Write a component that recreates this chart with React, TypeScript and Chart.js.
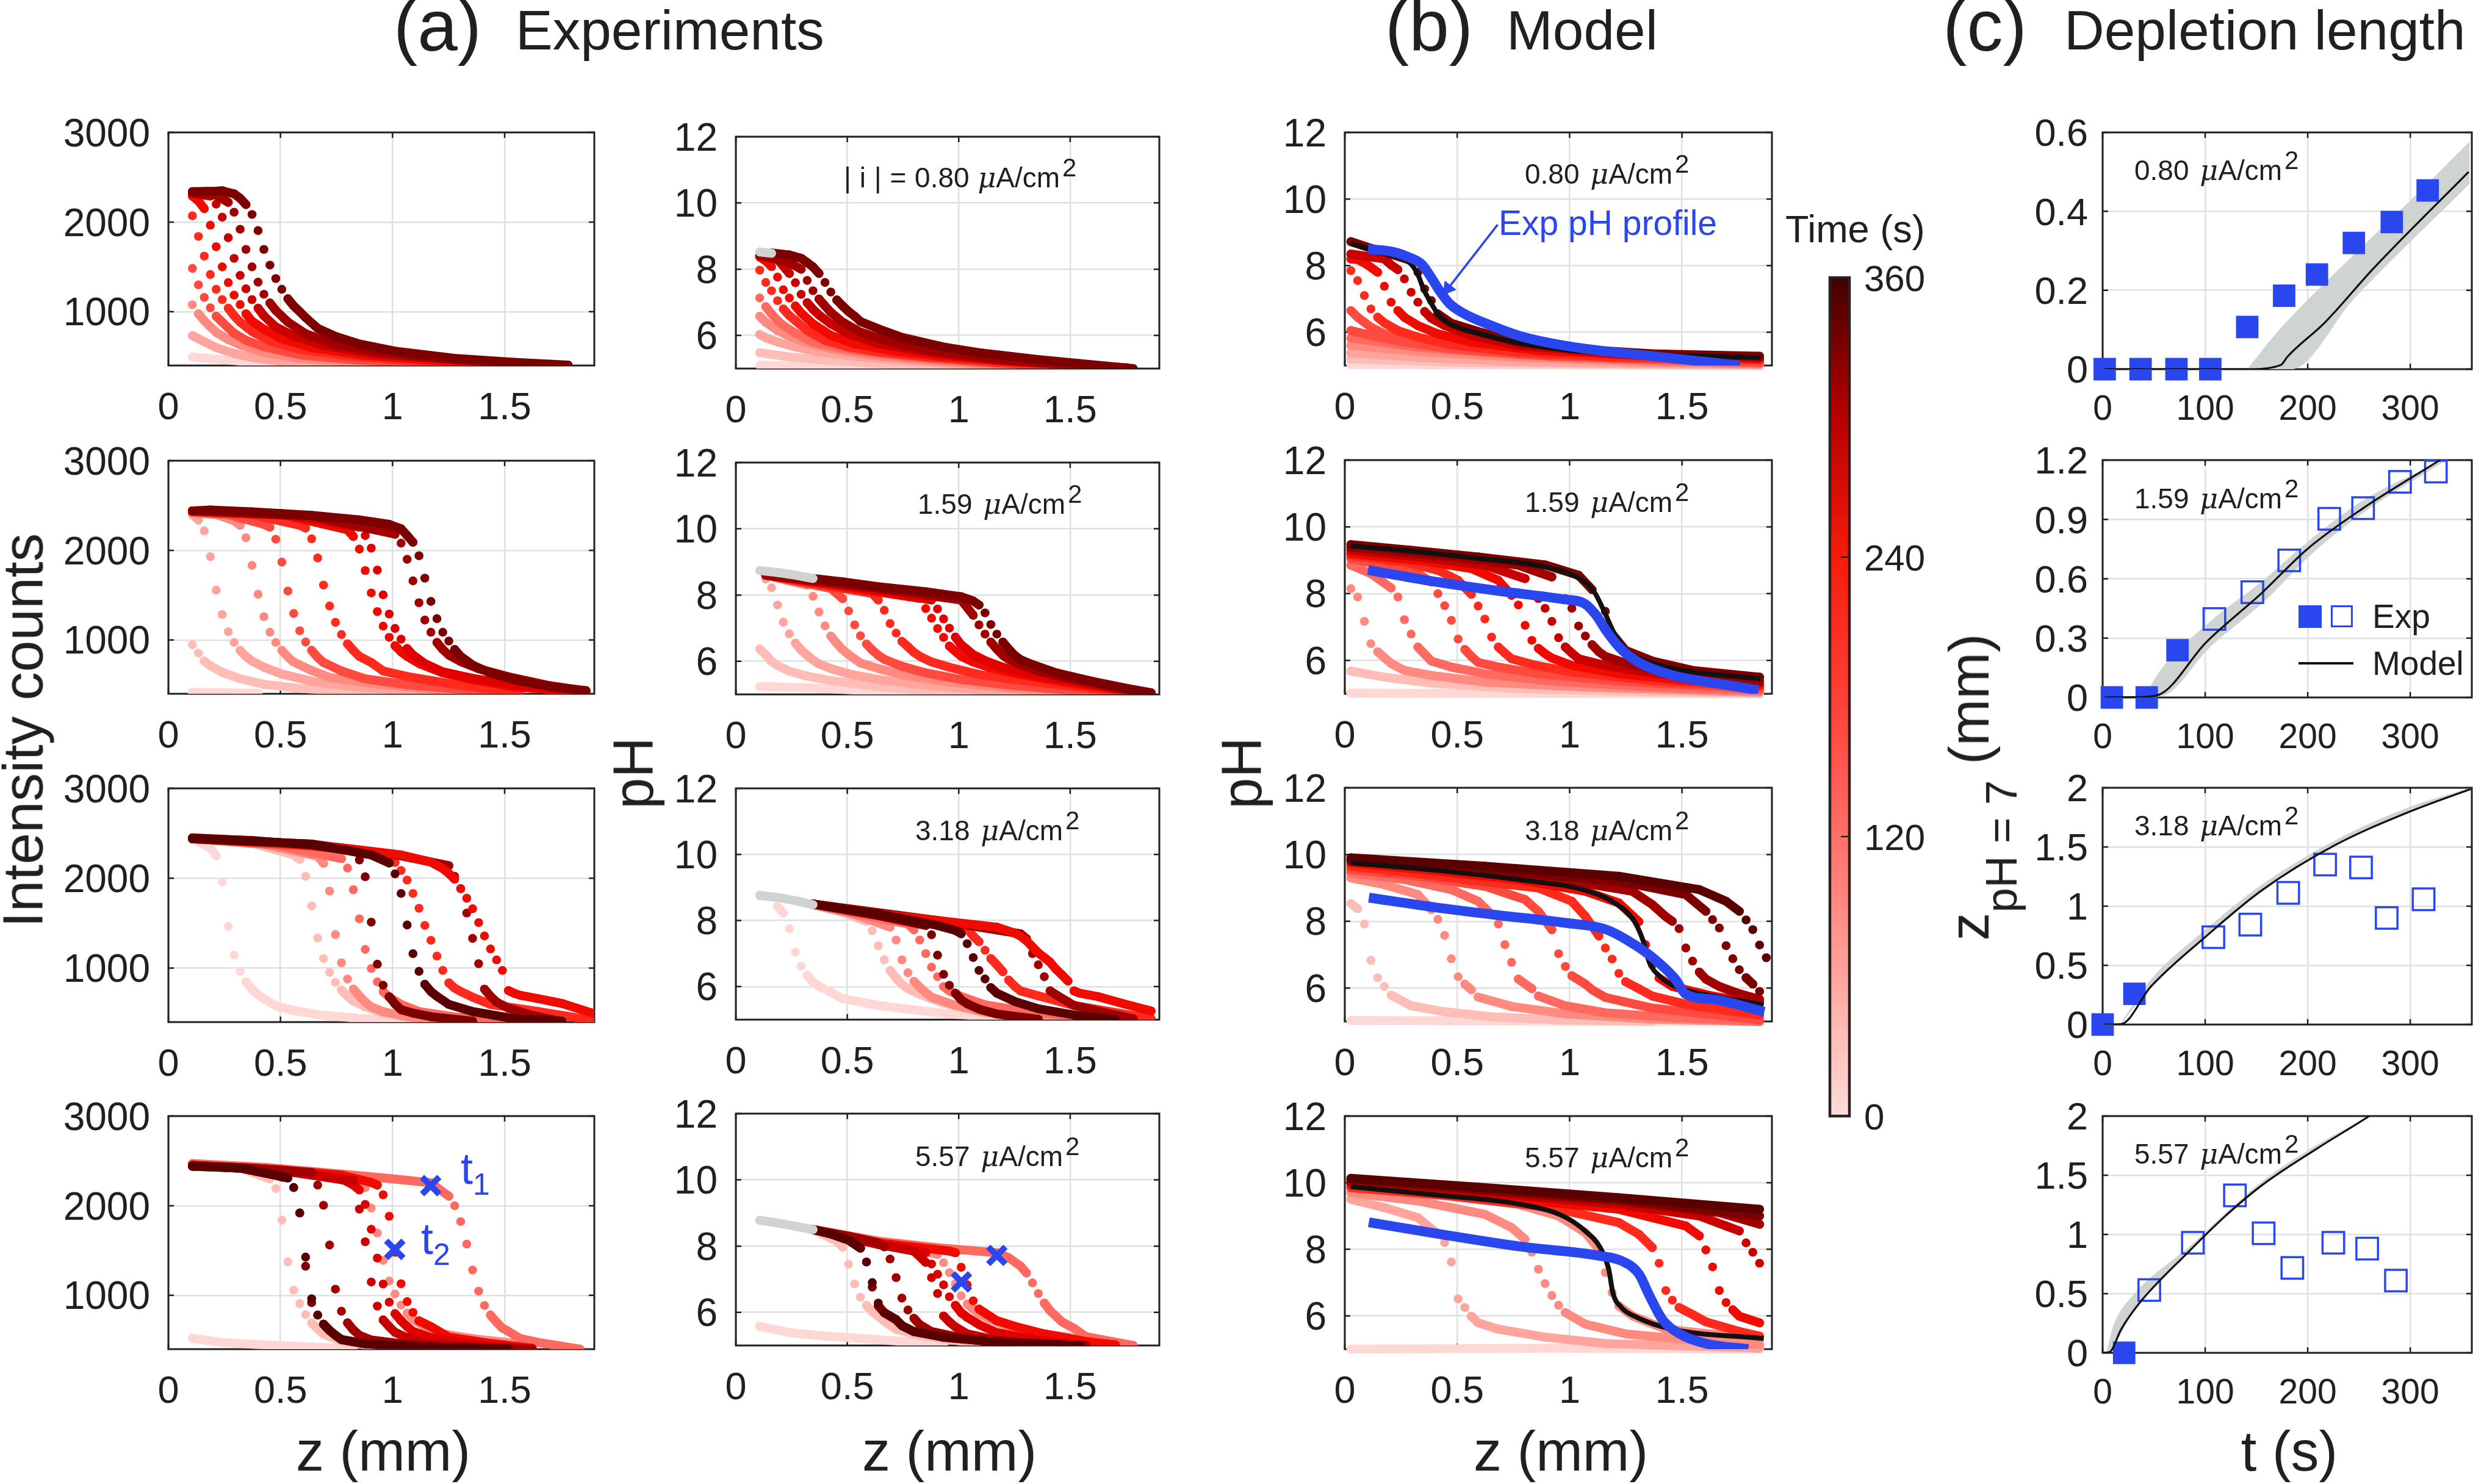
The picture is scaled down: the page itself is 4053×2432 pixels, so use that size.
import React, { useEffect, useRef } from "react";
import { Chart, registerables } from "chart.js";
Chart.register(...registerables);

// ---------- tick labels ----------
const zTicks = [0, 0.5, 1, 1.5];
const tTicks = [0, 100, 200, 300];
const intensityTicks = [1000, 2000, 3000];
const phTicks = [6, 8, 10, 12];
const depTicks1 = [0, 0.2, 0.4, 0.6];
const depTicks2 = [0, 0.3, 0.6, 0.9, 1.2];
const depTicks3 = [0, 0.5, 1, 1.5, 2];
const timeTicks = [0, 120, 240, 360];

// ---------- shared z sampling of the profiles ----------
const zExp = [0.107,0.134,0.160,0.187,0.213,0.240,0.267,0.293,0.320,0.346,0.373,0.400,0.426,0.453,0.479,0.506,0.533,0.559,0.586,0.612,0.639,0.666,0.692,0.719,0.745,0.772,0.799,0.825,0.852,0.878,0.905,0.932,0.958,0.985,1.011,1.038,1.065,1.091,1.118,1.144,1.171,1.198,1.224,1.251,1.277,1.304,1.331,1.357,1.384,1.410,1.437,1.464,1.490,1.517,1.543,1.570,1.597,1.623,1.650,1.676,1.703,1.730,1.756,1.783,1.809,1.836,1.863,1.889];
const zMod = [0.027,0.057,0.087,0.116,0.146,0.176,0.206,0.236,0.265,0.295,0.325,0.355,0.385,0.414,0.444,0.474,0.504,0.534,0.563,0.593,0.623,0.653,0.683,0.712,0.742,0.772,0.802,0.832,0.861,0.891,0.921,0.951,0.981,1.01,1.04,1.07,1.1,1.13,1.159,1.189,1.219,1.249,1.279,1.308,1.338,1.368,1.398,1.428,1.457,1.487,1.517,1.547,1.577,1.606,1.636,1.666,1.696,1.726,1.755,1.785,1.815,1.845,1.875];

// ---------- profiles: flat lists of (sample index, value), oldest first ----------
const intensity1 = [
  [0,495,5,465,10,440,15,420,20,405],
  [0,733,2,665,4,600,7,535,10,490,15,445,22,420,29,402],
  [0,1077,1,978,2,900,3,832,4,770,6,690,8,630,12,545,18,480,26,440,37,405],
  [0,1483,1,1300,2,1160,3,1045,4,950,5,885,6,820,7,760,9,680,12,610,18,520,26,470,36,430,46,405],
  [0,2070,1,1840,2,1620,3,1415,4,1250,5,1135,6,1040,7,955,8,885,10,780,13,675,18,580,26,510,36,460,50,415],
  [0,2290,1,2235,2,2150,3,1965,4,1725,5,1500,6,1325,7,1185,8,1080,9,977,10,895,12,805,15,700,20,600,28,520,40,460,56,410],
  [0,2320,3,2290,4,2200,5,2055,6,1825,7,1595,8,1405,9,1255,10,1135,11,1040,12,955,14,830,17,730,22,625,30,535,42,470,60,410],
  [0,2330,4,2300,6,2220,7,2110,8,1920,9,1695,10,1500,11,1330,12,1195,13,1097,14,1015,16,885,19,755,24,635,32,545,44,470,60,405],
  [0,2340,4,2345,5,2350,6,2330,7,2315,8,2265,9,2195,10,2085,11,1905,12,1695,13,1520,14,1370,15,1250,16,1145,17,1065,18,1000,19,935,21,815,24,725,28,640,34,560,44,480,54,435,63,405],
];
const intensity2 = [
  [0,415,5,412,11,405],
  [0,947,1,853,2,765,3,712,5,640,8,570,12,505,18,460,26,430,36,405],
  [0,2400,1,2337,2,2217,3,1930,4,1556,5,1285,6,1093,7,973,8,884,9,817,10,765,12,697,15,620,20,540,27,478,36,436,45,410],
  [0,2420,4,2400,7,2330,8,2280,9,2140,10,1832,11,1510,12,1260,13,1087,14,973,15,884,16,811,17,754,20,660,23,582,30,515,38,462,47,425,49,410],
  [0,2430,6,2400,12,2290,13,2259,14,2124,15,1869,16,1546,17,1296,18,1103,19,978,20,884,21,806,22,749,25,655,29,567,36,500,44,457,54,410],
  [0,2430,10,2400,18,2280,19,2249,20,2129,21,1915,22,1613,23,1379,24,1197,25,1061,26,957,27,884,28,817,30,749,32,655,36,593,44,504,53,426,55,405],
  [0,2440,15,2400,26,2230,27,2155,28,2014,29,1775,30,1525,31,1317,32,1155,33,1030,34,936,35,869,36,817,38,738,42,634,47,556,54,478,64,426],
  [0,2440,15,2410,28,2260,29,2165,30,2025,31,1780,32,1504,33,1290,34,1129,35,1009,36,905,37,832,39,738,42,645,47,572,54,499,65,426],
  [0,2440,20,2380,34,2180,35,2080,36,1900,37,1660,38,1416,39,1223,40,1087,41,973,42,895,43,832,45,760,48,680,53,590,60,490,66,430],
  [0,2440,3,2450,10,2430,20,2390,28,2340,33,2290,35,2240,36,2165,37,2090,38,1940,39,1690,40,1430,41,1238,42,1087,43,988,44,895,45,817,47,720,50,630,55,540,60,480,66,435],
];
const intensity3 = [
  [0,2440,3,2336,4,2251,5,1959,6,1464,7,1145,8,964,9,847,10,767,11,703,12,661,14,581,17,528,22,474,29,437,36,416,40,405],
  [0,2440,10,2390,17,2260,18,2209,19,2022,20,1693,21,1336,22,1107,23,953,24,842,25,756,26,687,27,634,29,570,32,501,37,448,43,416,46,405],
  [0,2440,12,2380,21,2246,22,2166,23,1858,24,1373,25,1060,26,879,27,767,28,693,29,623,30,570,32,517,36,458,43,421,53,402],
  [0,2440,14,2370,25,2219,26,2113,27,1873,28,1549,29,1209,30,996,31,847,32,740,33,677,35,597,38,517,44,458,53,405],
  [0,2440,20,2360,30,2290,34,2177,35,2087,36,1980,37,1831,38,1666,39,1475,40,1310,41,1134,42,975,43,836,44,778,45,740,47,677,50,597,58,517,67,421],
  [0,2440,20,2380,35,2250,43,2140,44,2022,45,1884,46,1613,47,1331,48,1049,49,767,50,687,51,623,53,554,57,474,62,405],
  [0,2440,10,2420,25,2340,35,2260,40,2180,42,2108,43,2054,44,1990,45,1884,46,1778,47,1661,48,1507,49,1358,50,1214,51,1092,52,975,53,751,54,720,55,698,58,660,62,607,67,501],
  [0,2450,10,2420,20,2370,27,2300,28,2203,29,2017,30,1512,31,1044,32,810,33,682,34,602,35,538,37,500,40,460,47,410],
  [0,2440,20,2380,30,2260,33,2170,34,2049,35,1831,36,1480,37,1161,38,964,39,820,40,740,41,687,43,597,47,517,54,437,62,410],
];
const intensity4 = [
  [0,520,5,475,10,455,18,430,27,405],
  [0,2450,8,2420,13,2299,14,2192,15,1839,16,1374,17,1058,18,908,19,785,20,694,21,625,22,566,25,490,29,448,37,425,40,410],
  [0,2460,15,2400,25,2320,29,2200,30,1973,31,1695,32,1390,33,1160,34,1015,35,892,36,801,37,732,39,651,42,571,47,518,54,464,57,430],
  [0,2470,12,2428,25,2353,32,2310,40,2256,41,2203,43,2106,44,2000,45,1823,46,1572,47,1283,48,1047,49,887,50,780,51,700,52,635,53,598,55,518,58,475,65,400],
  [0,2450,15,2400,25,2340,30,2260,31,2230,32,2122,33,1882,34,1480,35,1130,36,930,37,810,38,716,40,651,43,534,50,464,57,410],
  [0,2450,15,2390,25,2300,27,2230,28,2176,29,2015,30,1737,31,1416,32,1127,33,924,34,796,35,716,36,651,37,598,40,528,47,459,56,400],
  [0,2450,15,2390,25,2290,27,2283,28,1962,29,1598,30,1149,31,880,32,726,33,651,34,587,36,528,39,475,47,432,53,400],
  [0,2450,10,2420,20,2370,21,2230,22,2005,23,1561,24,1069,25,823,26,694,27,614,28,555,30,502,36,453,47,421,57,400],
  [0,2440,8,2420,14,2340,15,2320,16,2310,17,2203,18,1919,19,1325,20,919,21,780,22,678,23,609,24,555,25,507,29,459,40,421,53,400],
  [0,2440,8,2420,14,2340,16,2310,17,2203,18,1919,19,1427,20,962,21,780,22,678,23,609,24,555,25,507,29,459,40,421,53,400],
];
const cross1 = [{ x: 1.17, y: 2224 }, { x: 1.01, y: 1513 }];

const phExp1 = [
  [0,5.1,8,5.07,16,5.03,27,5.0],
  [0,5.48,5,5.35,10,5.27,18,5.17,28,5.07,38,5.0],
  [0,6.03,1,5.93,3,5.8,6,5.65,10,5.5,16,5.37,24,5.25,34,5.12,42,5.03],
  [0,6.58,1,6.4,2,6.28,3,6.15,5,5.98,8,5.78,12,5.6,18,5.42,26,5.28,36,5.15,46,5.03],
  [0,7.13,1,6.87,2,6.65,3,6.45,4,6.3,6,6.07,9,5.8,14,5.6,20,5.45,28,5.3,40,5.15,50,5.04],
  [0,7.97,1,7.6,2,7.35,3,7.05,4,6.8,5,6.6,6,6.45,8,6.15,11,5.85,15,5.65,20,5.5,28,5.35,40,5.18,54,5.03],
  [0,8.37,1,8.25,2,8.08,3,7.76,4,7.38,5,7.13,6,6.89,7,6.68,9,6.35,12,6.0,16,5.75,22,5.55,30,5.38,44,5.2,58,5.03],
  [0,8.4,3,8.3,5,7.87,6,7.59,7,7.24,8,6.99,9,6.79,10,6.62,12,6.35,15,6.05,20,5.75,28,5.5,40,5.25,60,5.02],
  [0,8.42,5,8.2,7,8.0,8,7.66,9,7.35,10,7.1,11,6.89,12,6.7,14,6.4,17,6.1,22,5.8,30,5.5,42,5.25,62,5.02],
  [2,8.49,5,8.43,7,8.33,8,8.2,9,8.07,10,7.87,11,7.6,12,7.31,13,7.07,14,6.89,15,6.72,16,6.58,17,6.42,20,6.2,24,5.94,31,5.65,37,5.48,47,5.27,54,5.15,63,5.0],
];
const phGray1 = [0,8.52,1,8.5,2,8.48];
const phExp2 = [
  [0,5.24,8,5.2,20,5.1,36,5.0],
  [0,6.37,1,6.2,2,6.0,3,5.87,5,5.7,8,5.55,12,5.42,18,5.28,26,5.15,36,5.05,42,5.0],
  [1,8.48,2,8.22,3,7.7,4,7.18,5,6.83,6,6.55,7,6.34,8,6.18,9,6.04,10,5.92,12,5.78,15,5.62,20,5.45,28,5.28,38,5.12,46,5.02],
  [1,8.6,8,8.3,9,7.96,10,7.49,11,7.07,12,6.76,13,6.54,14,6.35,15,6.2,17,5.95,20,5.78,24,5.6,30,5.42,38,5.26,48,5.1,54,5.03],
  [1,8.6,12,8.2,14,7.89,15,7.52,16,7.1,17,6.77,18,6.52,19,6.34,20,6.18,21,6.06,24,5.85,28,5.65,34,5.45,42,5.28,54,5.1,60,5.02],
  [1,8.6,14,8.2,19,8.05,20,7.85,21,7.54,22,7.14,23,6.85,24,6.6,25,6.44,26,6.27,27,6.15,29,5.98,32,5.82,37,5.6,45,5.4,54,5.22,62,5.05],
  [1,8.6,16,8.2,27,7.9,28,7.59,29,7.3,30,6.99,31,6.72,32,6.46,33,6.3,34,6.15,36,5.98,39,5.8,44,5.6,52,5.35,60,5.15,66,5.02],
  [1,8.6,18,8.2,29,7.85,30,7.58,31,7.28,32,7.0,33,6.73,34,6.5,35,6.35,36,6.2,38,6.02,41,5.82,46,5.6,54,5.35,62,5.14,66,5.03],
  [1,8.6,20,8.2,34,7.85,36,7.39,37,7.1,38,6.82,39,6.58,40,6.37,41,6.18,42,6.06,44,5.9,47,5.7,52,5.48,60,5.2,66,5.03],
  [9,8.5,14,8.4,20,8.25,28,8.1,34,7.95,36,7.82,37,7.7,38,7.46,39,7.11,40,6.82,41,6.58,42,6.37,43,6.18,44,6.05,46,5.9,50,5.65,56,5.4,62,5.18,66,5.05],
];
const phGray2 = [0,8.74,3,8.68,6,8.6,9,8.5];
const phExp3 = [
  [3,8.43,4,8.23,5,7.75,6,7.04,7,6.62,8,6.35,9,6.13,10,6.01,12,5.83,14,5.64,20,5.43,25,5.32,32,5.17,40,5.09,49,5.0],
  [9,8.48,14,8.25,18,7.97,19,7.69,20,7.24,21,6.81,22,6.49,23,6.26,24,6.07,25,5.94,27,5.77,31,5.5,37,5.26,45,5.09,49,5.03],
  [9,8.48,15,8.25,22,7.8,23,7.41,24,6.81,25,6.42,26,6.16,27,5.98,28,5.82,29,5.68,33,5.43,38,5.22,47,5.06,52,5.0],
  [9,8.5,15,8.25,25,7.9,26,7.72,27,7.41,28,7.0,29,6.59,30,6.3,31,6.0,32,5.87,34,5.7,38,5.45,44,5.28,52,5.12,60,5.02],
  [9,8.5,20,8.2,30,7.95,35,7.75,36,7.53,37,7.36,38,7.1,39,6.85,40,6.66,41,6.45,42,6.2,43,6.01,44,5.87,47,5.72,53,5.43,66,5.03],
  [9,8.5,30,8.0,44,7.6,45,7.45,46,7.0,47,6.66,48,6.3,49,5.87,50,5.75,53,5.43,60,5.14,63,5.03],
  [9,8.5,20,8.2,30,8.0,40,7.8,43,7.62,44,7.53,45,7.39,46,7.2,47,7.02,48,6.88,49,6.74,50,6.52,51,6.35,52,6.17,53,5.87,54,5.8,57,5.7,61,5.5,66,5.26],
  [9,8.5,20,8.15,28,7.85,29,7.57,30,6.95,31,6.37,32,6.04,33,5.8,34,5.6,35,5.48,37,5.32,40,5.17,47,5.01],
  [9,8.5,20,8.2,30,7.85,33,7.7,34,7.6,35,7.3,36,6.88,37,6.49,38,6.23,39,5.97,40,5.8,43,5.55,47,5.33,53,5.14,60,5.0],
];
const phGray3 = [0,8.76,3,8.7,6,8.6,9,8.48];
const phExp4 = [
  [0,5.58,5,5.39,10,5.3,18,5.2,26,5.1,31,5.02],
  [9,8.5,13,8.15,14,7.97,15,7.45,16,6.86,17,6.46,18,6.21,19,6.02,20,5.88,21,5.73,23,5.49,27,5.3,34,5.13,42,5.01],
  [9,8.5,20,8.15,30,7.75,31,7.5,32,7.2,33,6.86,34,6.5,35,6.25,36,6.1,37,5.95,39,5.78,42,5.55,47,5.38,54,5.2,60,5.05],
  [9,8.5,20,8.15,30,7.95,40,7.8,42,7.65,44,7.4,45,7.19,46,6.89,47,6.57,48,6.28,49,6.05,50,5.88,51,5.71,53,5.52,55,5.27,63,5.0],
  [9,8.5,20,8.1,32,7.85,33,7.8,34,7.36,35,6.83,36,6.35,37,6.1,38,5.98,40,5.75,43,5.58,48,5.35,55,5.12,60,5.02],
  [9,8.5,20,8.05,27,7.85,28,7.8,29,7.46,30,7.15,31,6.83,32,6.47,33,6.21,34,5.99,35,5.85,37,5.63,40,5.39,47,5.16,55,5.0],
  [9,8.5,20,8.05,26,7.85,28,7.51,29,7.05,30,6.57,31,5.89,32,5.71,33,5.56,35,5.35,40,5.16,47,5.04,52,5.0],
  [9,8.5,15,8.3,20,8.1,21,7.98,22,7.61,23,7.05,24,6.43,25,6.07,26,5.82,27,5.63,29,5.42,34,5.23,44,5.09,55,5.0],
  [9,8.5,12,8.37,15,8.18,17,7.94,18,7.52,19,6.76,20,6.2,21,5.99,23,5.78,24,5.6,26,5.42,31,5.25,40,5.1,54,5.0],
  [9,8.5,12,8.37,15,8.18,17,7.94,18,7.52,19,6.9,20,6.28,21,5.99,23,5.78,24,5.6,26,5.42,31,5.25,40,5.1,54,5.0],
];
const phGray4 = [0,8.78,3,8.7,6,8.6,9,8.5];
const cross2 = [{ x: 1.171, y: 7.72 }, { x: 1.012, y: 6.92 }];

const phMod1 = [
  [0,5.03,30,5.02,61,5.0],
  [0,5.2,15,5.1,35,5.05,61,5.0],
  [0,5.38,10,5.25,25,5.12,61,5.03],
  [0,5.6,10,5.42,25,5.25,45,5.1,61,5.05],
  [0,5.82,4,5.72,10,5.55,25,5.32,45,5.15,61,5.07],
  [0,6.05,3,5.9,8,5.7,15,5.5,30,5.28,61,5.1],
  [0,6.65,1,6.45,2,6.3,3,6.15,5,5.95,10,5.72,20,5.45,40,5.25,61,5.15],
  [0,7.85,1,7.55,2,7.1,3,6.7,4,6.45,5,6.28,7,6.05,10,5.85,15,5.62,25,5.4,40,5.25,61,5.17],
  [0,8.2,1,8.18,2,8.08,3,7.95,4,7.8,5,7.38,6,6.9,7,6.65,8,6.45,10,6.2,13,5.95,18,5.7,28,5.45,45,5.28,61,5.2],
  [0,8.35,5,8.2,6,8.02,7,7.88,8,7.6,9,7.2,10,6.9,11,6.62,12,6.42,14,6.2,18,5.9,25,5.6,40,5.35,61,5.25],
  [0,8.72,3,8.52,6,8.34,9,8.15,10,7.8,11,7.3,12,6.95,13,6.55,15,6.27,19,6.02,25,5.7,33,5.5,45,5.35,61,5.28],
];
const phMod2 = [
  [0,5.02,30,5.01,61,5.0],
  [0,5.68,5,5.5,12,5.32,25,5.15,45,5.06,61,5.03],
  [0,8.15,1,7.9,2,7.17,3,6.5,4,6.26,5,6.08,6,5.91,8,5.7,12,5.55,20,5.35,35,5.2,61,5.05],
  [0,8.85,3,8.6,6,8.17,7,7.9,8,7.22,9,6.79,10,6.4,11,6.19,12,5.98,15,5.8,20,5.6,30,5.38,45,5.2,61,5.1],
  [0,9.05,6,8.8,10,8.6,12,8.35,13,8.0,14,7.64,15,7.2,16,6.64,17,6.33,18,6.12,19,5.94,22,5.8,28,5.6,40,5.38,61,5.15],
  [0,9.15,8,8.95,13,8.7,16,8.4,18,7.98,19,7.63,20,7.24,21,6.7,22,6.4,23,6.22,24,6.05,27,5.88,33,5.65,45,5.4,61,5.22],
  [0,9.2,10,9.0,18,8.75,22,8.4,24,7.95,25,7.66,26,7.05,27,6.6,28,6.36,29,6.2,30,6.07,33,5.85,40,5.6,50,5.4,61,5.28],
  [0,9.3,10,9.1,20,8.85,26,8.45,28,7.85,29,7.56,30,7.17,31,6.68,32,6.4,33,6.22,34,6.05,38,5.85,45,5.62,55,5.42,61,5.33],
  [0,9.38,15,9.1,25,8.85,30,8.5,32,7.85,33,7.56,34,7.03,35,6.73,36,6.47,37,6.26,38,6.12,42,5.85,48,5.65,55,5.48,61,5.38],
  [0,9.47,9,9.3,19,9.1,29,8.86,34,8.55,36,8.12,38,7.47,39,6.8,41,6.3,45,5.98,51,5.7,61,5.5],
];
const phMod3 = [
  [0,5.03,30,5.01,61,5.0],
  [0,8.53,1,8.38,2,7.92,3,6.83,4,6.31,5,6.05,6,5.79,9,5.47,14,5.29,21,5.14,32,5.04,45,5.0],
  [0,9.3,5,9.1,10,8.8,12,8.35,13,8.06,14,7.58,15,6.88,16,6.34,17,6.12,18,5.95,19,5.73,24,5.45,32,5.23,45,5.07,61,5.0],
  [0,9.45,8,9.25,15,8.95,19,8.6,21,8.2,22,7.92,23,7.3,24,6.77,25,6.27,27,5.98,28,5.76,32,5.47,38,5.26,48,5.12,61,5.0],
  [0,9.55,10,9.35,20,9.05,26,8.65,28,8.3,30,7.75,31,7.03,32,6.65,33,6.37,35,6.12,36,5.95,38,5.72,45,5.4,61,5.05],
  [0,9.65,15,9.3,28,9.0,33,8.6,35,8.15,37,7.56,38,7.2,39,6.87,40,6.44,41,6.19,43,5.98,45,5.76,51,5.47,61,5.19],
  [0,9.75,13,9.5,25,9.25,35,8.9,40,8.55,43,7.99,44,7.3,45,6.7,46,6.3,48,6.05,54,5.76,61,5.55],
  [0,9.8,15,9.6,30,9.3,42,8.9,45,8.5,47,8.14,48,8.0,49,7.78,50,7.2,51,6.81,52,6.48,53,6.27,55,6.05,58,5.83,61,5.66],
  [0,9.85,20,9.55,40,9.2,50,8.8,53,8.3,54,8.05,55,7.8,56,7.27,57,6.88,58,6.55,59,6.31,60,6.12,61,5.9],
  [0,9.9,20,9.65,40,9.35,52,8.95,56,8.6,58,8.3,59,8.04,60,7.75,61,7.29,62,6.91],
];
const phMod4 = [
  [0,5.0,30,5.03,61,5.0],
  [0,9.5,5,9.25,10,8.95,13,8.45,14,8.2,15,7.62,16,6.51,17,6.25,18,5.99,19,5.79,22,5.6,29,5.36,38,5.17,61,5.03],
  [0,9.7,10,9.45,20,9.05,24,8.65,26,8.3,27,7.91,28,7.4,29,6.97,30,6.61,31,6.32,32,6.1,35,5.75,41,5.46,51,5.27,61,5.13],
  [0,9.88,13,9.63,25,9.35,31,9.0,35,8.5,37,8.0,38,7.3,39,6.7,40,6.3,42,6.0,47,5.6,61,5.3],
  [0,9.85,15,9.6,30,9.25,40,8.8,43,8.45,45,8.05,46,7.58,47,6.76,48,6.47,49,6.25,51,6.04,53,5.82,58,5.53,61,5.39],
  [0,9.95,20,9.6,40,9.2,50,8.7,52,8.4,53,7.98,54,7.47,55,6.76,56,6.4,57,6.18,58,5.99,61,5.79],
  [0,10.0,20,9.7,40,9.35,52,9.0,56,8.7,58,8.55,59,8.19,60,7.91,61,7.58],
  [0,10.05,20,9.75,40,9.45,55,9.1,61,8.75],
  [0,10.1,20,9.8,40,9.5,61,9.0],
  [0,10.13,20,9.85,40,9.55,61,9.2],
];

// ---------- solid lines overlaid on the model profiles ----------
const modelLineZ1 = [0.027,0.113,0.21,0.285,0.323,0.352,0.38,0.419,0.476,0.59,0.782,1.002,1.356,1.849];
const modelLinePh1 = [8.67,8.49,8.31,8.11,7.76,7.27,6.92,6.5,6.22,5.97,5.67,5.46,5.32,5.25];
const modelLineZ2 = [0.027,0.304,0.59,0.877,1.03,1.107,1.155,1.203,1.26,1.356,1.547,1.849];
const modelLinePh2 = [9.43,9.27,9.06,8.82,8.5,8.08,7.45,6.75,6.26,5.94,5.66,5.46];
const modelLineZ3 = [0.027,0.4,0.782,1.069,1.203,1.289,1.327,1.355,1.403,1.47,1.642,1.863];
const modelLinePh3 = [9.75,9.53,9.24,8.93,8.54,7.99,7.42,6.77,6.34,6.05,5.76,5.5];
const modelLineZ4 = [0.027,0.4,0.782,0.973,1.069,1.136,1.174,1.193,1.231,1.298,1.455,1.863];
const modelLinePh4 = [9.88,9.63,9.35,8.99,8.55,8.05,7.4,6.68,6.25,5.96,5.6,5.32];
const expLineZ1 = [0.103,0.21,0.285,0.342,0.38,0.419,0.467,0.533,0.629,0.782,1.002,1.356,1.757];
const expLinePh1 = [8.5,8.42,8.25,8.04,7.69,7.27,6.85,6.55,6.26,5.88,5.57,5.29,5.0];
const expLineZ2 = [0.103,0.4,0.686,0.973,1.067,1.115,1.163,1.22,1.298,1.455,1.645,1.84];
const expLinePh2 = [8.71,8.36,8.08,7.83,7.7,7.38,6.89,6.4,5.98,5.56,5.32,5.11];
const expLineZ3 = [0.107,0.4,0.686,0.973,1.164,1.26,1.355,1.47,1.518,1.642,1.866];
const expLinePh3 = [8.71,8.42,8.18,7.96,7.75,7.42,6.99,6.27,5.81,5.66,5.29];
const expLineZ4 = [0.107,0.4,0.782,1.126,1.241,1.308,1.355,1.413,1.49,1.604,1.795];
const expLinePh4 = [8.81,8.48,8.08,7.81,7.62,7.26,6.61,5.89,5.46,5.17,5.0];
const arrowZ = [0.68, 0.459];
const arrowPh = [9.23, 7.31];

// ---------- depletion length ----------
const depT1 = [2,37,72,105,141,177,209,245,282,317];
const depZ1 = [0,0,0,0,0.107,0.186,0.24,0.32,0.373,0.453];
const depFilled1 = 10;
const depLineT1 = [2,141,174,180,217,264,357];
const depLineZ1 = [0,0,0.011,0.031,0.119,0.255,0.5];
const bandUpT1 = [141,173,245,300,358];
const bandUpZ1 = [0,0.102,0.29,0.427,0.577];
const bandLoT1 = [141,184,245,358];
const bandLoZ1 = [0,0,0.178,0.47];

const depT2 = [9,43,73,109,146,182,221,254,290,325];
const depZ2 = [0,0,0.239,0.397,0.532,0.693,0.903,0.957,1.09,1.142];
const depFilled2 = 3;
const depLineT2 = [2,36,54,101,155,200,253,329];
const depLineZ2 = [0,0.002,0.012,0.279,0.527,0.752,0.953,1.2];
const bandUpT2 = [40,58,105,155,200,253,332];
const bandUpZ2 = [0,0.149,0.385,0.586,0.787,0.993,1.2];
const bandLoT2 = [40,58,105,159,202,253,332];
const bandLoZ2 = [0,0.007,0.255,0.492,0.716,0.929,1.19];

const depT3 = [0,31,108,144,181,217,252,277,313];
const depZ3 = [0,0.26,0.738,0.844,1.112,1.351,1.327,0.9,1.058];
const depFilled3 = 2;
const depLineT3 = [2,18,47,101,155,227,300,359];
const depLineZ3 = [0,0.004,0.32,0.746,1.132,1.517,1.8,1.99];
const bandUpT3 = [18,47,101,155,227,300,359];
const bandUpZ3 = [0.016,0.38,0.807,1.18,1.557,1.84,2.0];
const bandLoT3 = [18,47,101,155,227,300,359];
const bandLoZ3 = [0.004,0.32,0.746,1.132,1.517,1.8,1.99];

const depT4 = [21,45.5,88,129,157,185,225,258,286];
const depZ4 = [0,0.53,0.93,1.33,1.01,0.717,0.93,0.88,0.61];
const depFilled4 = 1;
const depLineT4 = [0,7,18,36,83,119,155,209,260,275];
const depLineZ4 = [0,0.008,0.198,0.421,0.846,1.15,1.413,1.725,2.0,2.09];
const bandUpT4 = [4,11,29,83,155,209,260];
const bandUpZ4 = [0.016,0.24,0.48,0.887,1.445,1.757,2.0];
const bandLoT4 = [4,11,29,83,155,209,260];
const bandLoZ4 = [0.002,0.06,0.33,0.846,1.413,1.725,2.0];

// ---------- styling ----------
const P = ["#ffd8d5","#ffbdb7","#ffa59d","#ff8a80","#ff6a60","#ff4a40","#ff2a1e","#f00a00","#c80000","#a00000","#7d0000","#5a0000"];
const coloursI1 = [P[0],P[2],P[3],P[5],P[6],P[7],P[8],P[9],P[10]];
const coloursP1 = [P[0],P[1],P[2],P[3],P[4],P[6],P[7],P[8],P[9],P[10]];
const coloursR2 = [P[0],P[1],P[2],P[3],P[5],P[6],P[7],"#e00000",P[9],P[10]];
const coloursR3 = [P[0],P[1],P[3],P[4],P[6],P[9],P[7],P[10],P[11]];
const coloursR4 = [P[0],P[1],P[3],P[4],P[7],"#e00000",P[8],P[9],P[10],P[11]];
const coloursM1 = [P[0],P[1],P[2],P[3],P[4],P[5],P[5],P[6],P[7],P[8],P[10]];
const coloursM2 = [P[0],P[1],P[3],P[4],P[5],P[6],P[7],P[8],P[9],P[10]];
const coloursM3 = [P[0],P[1],P[3],P[4],P[5],P[6],P[7],P[9],P[10],P[11]];
const coloursM4 = [P[0],P[2],P[3],P[3],P[6],P[7],P[8],P[9],P[10],P[11]];
const GRAY = "#cfd3d1";
const BLUE = "#2a46ee";
const INK = "#202020";
const FONT = '"Liberation Sans", Arial, sans-serif';
const cbTimes = [0,60,120,180,240,300,340,360];
const cbColours = ["#fddcd9","#ffa59d","#ff7068","#ff3f36","#f41c0c","#b80000","#6a0000","#3e0000"];

const ML = 200, MR = 40, MT = 40, MB = 130;
const Y_LABEL_NUDGE = 5;

const nudgeY = (chart: any) => {
  const s = chart.scales.y;
  for (const item of s.getLabelItems()) {
    if (!item.options.__nudged) {
      item.options.translation = [item.options.translation[0], item.options.translation[1] + Y_LABEL_NUDGE];
      item.options.__nudged = true;
    }
  }
};

const frame = {
  id: "frame",
  beforeDraw: nudgeY,
  beforeDatasetsDraw(chart: any) {
    const { ctx, chartArea: a, scales } = chart;
    ctx.save();
    ctx.strokeStyle = INK;
    ctx.lineWidth = 3;
    ctx.strokeRect(a.left, a.top, a.right - a.left, a.bottom - a.top);
    ctx.lineWidth = 2.5;
    const len = 9;
    ctx.beginPath();
    for (const t of scales.x.ticks) {
      const x = scales.x.getPixelForValue(t.value);
      ctx.moveTo(x, a.bottom); ctx.lineTo(x, a.bottom - len);
      ctx.moveTo(x, a.top); ctx.lineTo(x, a.top + len);
    }
    for (const t of scales.y.ticks) {
      const y = scales.y.getPixelForValue(t.value);
      ctx.moveTo(a.left, y); ctx.lineTo(a.left + len, y);
      ctx.moveTo(a.right, y); ctx.lineTo(a.right - len, y);
    }
    ctx.stroke();
    ctx.restore();
  },
};

function pts(xs: number[], ys: number[]) {
  return xs.map((x, i) => ({ x, y: ys[i] }));
}

function profile(pairs: number[], grid: number[], colour: string, r: number, clip: any) {
  const data: any[] = [];
  for (let i = 0; i < pairs.length; i += 2) data.push({ x: grid[pairs[i]], y: pairs[i + 1] });
  const D = r * 2;
  return {
    data,
    borderColor: colour,
    borderWidth: D,
    borderCapStyle: "round",
    borderJoinStyle: "round",
    pointRadius: r,
    pointBackgroundColor: colour,
    pointBorderWidth: 0,
    clip,
    segment: {
      borderColor: (c: any) => {
        const dx = Math.abs(c.p1.x - c.p0.x), dy = Math.abs(c.p1.y - c.p0.y);
        const dist = Math.hypot(dx, dy);
        const dz = Math.abs(c.p1.parsed.x - c.p0.parsed.x);
        if (dz <= 0.045 && dist > D * 1.1) return "transparent";
        if (dy > dx * 1.5 && dist > D) return "transparent";
        return undefined;
      },
    },
  };
}
function solidLine(xs: number[], ys: number[], colour: string, w: number) {
  return { data: pts(xs, ys), borderColor: colour, borderWidth: w, pointRadius: 0, borderJoinStyle: "round", borderCapStyle: "butt", cubicInterpolationMode: "monotone" };
}
function crosses(list: any[]) {
  return { data: list, showLine: false, pointStyle: "crossRot", pointRadius: 20, pointBorderWidth: 10, pointBorderColor: BLUE, pointBackgroundColor: BLUE, clip: false };
}
function expPanel(curves: number[][], colours: string[], grayPairs: number[] | null, extra: any[] = []) {
  const ds: any[] = curves.map((c, i) => profile(c, zExp, colours[i], 7.3, 0));
  if (grayPairs) ds.push(profile(grayPairs, zExp, GRAY, 7.3, 0));
  return ds.concat(extra);
}
function modPanel(curves: number[][], colours: string[], lz: number[], lp: number[], ez: number[], ep: number[], extra: any[] = []) {
  const ds: any[] = curves.map((c, i) => profile(c, zMod, colours[i], 7.3, 8));
  ds.push(solidLine(lz, lp, "#141010", 8));
  ds.push(solidLine(ez, ep, BLUE, 16));
  return ds.concat(extra);
}
function depPanel(t: number[], z: number[], nFilled: number, lt: number[], lz: number[], ut: number[], uz: number[], dt: number[], dz: number[]) {
  const up: any = { data: pts(ut, uz), borderWidth: 0, pointRadius: 0, backgroundColor: GRAY, fill: { target: 1 }, cubicInterpolationMode: "monotone" };
  const lo: any = { data: pts(dt, dz), borderWidth: 0, pointRadius: 0, cubicInterpolationMode: "monotone" };
  const filled: any = { data: pts(t.slice(0, nFilled), z.slice(0, nFilled)), showLine: false, pointStyle: "rect", pointRadius: 26, pointBackgroundColor: BLUE, pointBorderWidth: 0, clip: false };
  const open: any = { data: pts(t.slice(nFilled), z.slice(nFilled)), showLine: false, pointStyle: "rect", pointRadius: 25, pointBackgroundColor: "transparent", pointBorderColor: BLUE, pointBorderWidth: 3.5, clip: false };
  const line: any = { data: pts(lt, lz), borderColor: "#141010", borderWidth: 3.2, pointRadius: 0, cubicInterpolationMode: "monotone" };
  return [up, lo, filled, open, line];
}

const arrowLine: any = { data: pts(arrowZ, arrowPh), borderColor: BLUE, borderWidth: 3.5, pointRadius: [0, 14], pointStyle: "triangle", rotation: 217, pointBackgroundColor: BLUE, pointBorderWidth: 0 };

const colA1: [number, number] = [276, 974];
const colA2: [number, number] = [1206, 1900];
const colB: [number, number] = [2204, 2904];
const colC: [number, number] = [3446, 4051];
const rowsA1 = [[217,599],[755,1137],[1292,1675],[1829,2211]];
const rowsA2 = [[224,604],[758,1138],[1292,1671],[1825,2205]];
const rowsB = [[217,599],[754,1137],[1291,1674],[1829,2211]];
const rowsC = [[217,605],[754,1143],[1291,1679],[1829,2217]];

type Panel = { col: [number, number]; row: number[]; xMax: number; xt: number[]; yMin: number; yMax: number; yt: number[]; ds: any[]; fontX: number; fontY: number; padY: number };
const ax = (col: any, row: any, yMin: number, yMax: number, yt: number[], ds: any[]): Panel => ({ col, row, xMax: 1.9, xt: zTicks, yMin, yMax, yt, ds, fontX: 63, fontY: 64, padY: 30 });
const dp = (row: any, yMax: number, yt: number[], ds: any[]): Panel => ({ col: colC, row, xMax: 360, xt: tTicks, yMin: 0, yMax, yt, ds, fontX: 57, fontY: 63, padY: 24 });

const panels: Panel[] = [
  ax(colA1, rowsA1[0], 400, 3000, intensityTicks, expPanel(intensity1, coloursI1, null)),
  ax(colA1, rowsA1[1], 400, 3000, intensityTicks, expPanel(intensity2, coloursR2, null)),
  ax(colA1, rowsA1[2], 400, 3000, intensityTicks, expPanel(intensity3, coloursR3, null)),
  ax(colA1, rowsA1[3], 400, 3000, intensityTicks, expPanel(intensity4, coloursR4, null, [crosses(cross1)])),
  ax(colA2, rowsA2[0], 5, 12, phTicks, expPanel(phExp1, coloursP1, phGray1)),
  ax(colA2, rowsA2[1], 5, 12, phTicks, expPanel(phExp2, coloursR2, phGray2)),
  ax(colA2, rowsA2[2], 5, 12, phTicks, expPanel(phExp3, coloursR3, phGray3)),
  ax(colA2, rowsA2[3], 5, 12, phTicks, expPanel(phExp4, coloursR4, phGray4, [crosses(cross2)])),
  ax(colB, rowsB[0], 5, 12, phTicks, modPanel(phMod1, coloursM1, modelLineZ1, modelLinePh1, expLineZ1, expLinePh1, [arrowLine])),
  ax(colB, rowsB[1], 5, 12, phTicks, modPanel(phMod2, coloursM2, modelLineZ2, modelLinePh2, expLineZ2, expLinePh2)),
  ax(colB, rowsB[2], 5, 12, phTicks, modPanel(phMod3, coloursM3, modelLineZ3, modelLinePh3, expLineZ3, expLinePh3)),
  ax(colB, rowsB[3], 5, 12, phTicks, modPanel(phMod4, coloursM4, modelLineZ4, modelLinePh4, expLineZ4, expLinePh4)),
  dp(rowsC[0], 0.6, depTicks1, depPanel(depT1, depZ1, depFilled1, depLineT1, depLineZ1, bandUpT1, bandUpZ1, bandLoT1, bandLoZ1)),
  dp(rowsC[1], 1.2, depTicks2, depPanel(depT2, depZ2, depFilled2, depLineT2, depLineZ2, bandUpT2, bandUpZ2, bandLoT2, bandLoZ2)),
  dp(rowsC[2], 2, depTicks3, depPanel(depT3, depZ3, depFilled3, depLineT3, depLineZ3, bandUpT3, bandUpZ3, bandLoT3, bandLoZ3)),
  dp(rowsC[3], 2, depTicks3, depPanel(depT4, depZ4, depFilled4, depLineT4, depLineZ4, bandUpT4, bandUpZ4, bandLoT4, bandLoZ4)),
];

const noPadding = (s: any) => { s.paddingTop = 0; s.paddingBottom = 0; s.paddingLeft = 0; s.paddingRight = 0; };

function buildPanel(canvas: HTMLCanvasElement, p: Panel) {
  const n = p.ds.length;
  const datasets = p.ds.map((d, i) => ({ ...d, order: n - i }));
  return new Chart(canvas, {
    type: "line",
    data: { datasets },
    plugins: [frame],
    options: {
      animation: false,
      responsive: false,
      devicePixelRatio: 1,
      events: [],
      layout: { autoPadding: false, padding: { top: MT, right: MR } },
      plugins: { legend: { display: false }, tooltip: { enabled: false } },
      scales: {
        x: {
          type: "linear", min: 0, max: p.xMax,
          afterBuildTicks: (s: any) => { s.ticks = p.xt.map((value) => ({ value })); },
          afterFit: (s: any) => { s.height = MB; noPadding(s); },
          border: { display: false },
          grid: { color: "#dde1e0", lineWidth: 2.5, drawTicks: false },
          ticks: { font: { family: FONT, size: p.fontX }, color: INK, padding: 33, maxRotation: 0, autoSkip: false, callback: (v: any) => String(v) },
        },
        y: {
          type: "linear", min: p.yMin, max: p.yMax,
          afterBuildTicks: (s: any) => { s.ticks = p.yt.map((value) => ({ value })); },
          afterFit: (s: any) => { s.width = ML; noPadding(s); },
          border: { display: false },
          grid: { color: "#dde1e0", lineWidth: 2.5, drawTicks: false },
          ticks: { font: { family: FONT, size: p.fontY }, color: INK, padding: p.padY, autoSkip: false, callback: (v: any) => String(v) },
        },
      },
    },
  } as any);
}

function buildColourbar(canvas: HTMLCanvasElement) {
  const fill = (c: any) => {
    const { ctx, chartArea: a } = c.chart;
    if (!a) return "#ff0000";
    const g = ctx.createLinearGradient(0, a.bottom, 0, a.top);
    cbTimes.forEach((t, i) => g.addColorStop(t / 360, cbColours[i]));
    return g;
  };
  const bar = {
    id: "cbframe",
    beforeDraw: nudgeY,
    afterDatasetsDraw(chart: any) {
      const { ctx, chartArea: a, scales } = chart;
      ctx.save();
      ctx.strokeStyle = "#2a2020";
      ctx.lineWidth = 4.5;
      ctx.strokeRect(a.left, a.top, a.right - a.left, a.bottom - a.top);
      ctx.lineWidth = 2.5;
      ctx.beginPath();
      for (const t of scales.y.ticks) {
        const y = scales.y.getPixelForValue(t.value);
        ctx.moveTo(a.right, y); ctx.lineTo(a.right - 14, y);
      }
      ctx.stroke();
      ctx.restore();
    },
  };
  return new Chart(canvas, {
    type: "bar",
    data: { labels: ["Time (s)"], datasets: [{ data: [[0, 360]], backgroundColor: fill, barPercentage: 1, categoryPercentage: 1, borderWidth: 0 }] },
    plugins: [bar],
    options: {
      animation: false, responsive: false, devicePixelRatio: 1, events: [],
      layout: { autoPadding: false, padding: { top: 40, left: 10, bottom: 40 } },
      plugins: { legend: { display: false }, tooltip: { enabled: false } },
      scales: {
        x: { display: false },
        y: {
          type: "linear", position: "right", min: 0, max: 360,
          afterBuildTicks: (s: any) => { s.ticks = timeTicks.map((value) => ({ value })); },
          afterFit: (s: any) => { s.width = 140; noPadding(s); },
          border: { display: false },
          grid: { display: false, drawTicks: false },
          ticks: { font: { family: FONT, size: 60 }, color: INK, padding: 24, autoSkip: false, callback: (v: any) => String(v) },
        },
      },
    },
  } as any);
}

const baseTxt: React.CSSProperties = { position: "absolute", fontFamily: FONT, lineHeight: 1, whiteSpace: "nowrap", color: INK };

function Txt({ x, y, size, rot, color, anchor, children }: any) {
  const tx = anchor === "left" ? "0" : "-50%";
  return (
    <div style={{ ...baseTxt, left: x, top: y, fontSize: size, color: color || INK, transform: `translate(${tx},-50%)${rot ? " rotate(-90deg)" : ""}` }}>
      {children}
    </div>
  );
}
function Density({ x, y, label, ws = 5 }: any) {
  return (
    <Txt x={x} y={y} size={46} anchor="left">
      <span style={{ wordSpacing: ws }}>{label} </span>
      <i style={{ fontFamily: '"DejaVu Serif", serif' }}>μ</i>A/cm
      <span style={{ fontSize: 42, position: "relative", top: -18, left: 4 }}>2</span>
    </Txt>
  );
}
const densityAnnotations = [
  { x: 1383, y: 291, label: "| i | = 0.80", ws: 1 },
  { x: 1504, y: 826, label: "1.59" },
  { x: 1500, y: 1361, label: "3.18" },
  { x: 1500, y: 1895, label: "5.57" },
  { x: 2499, y: 285, label: "0.80" },
  { x: 2499, y: 823, label: "1.59" },
  { x: 2499, y: 1361, label: "3.18" },
  { x: 2499, y: 1897, label: "5.57" },
  { x: 3498, y: 279, label: "0.80" },
  { x: 3498, y: 817, label: "1.59" },
  { x: 3498, y: 1353, label: "3.18" },
  { x: 3498, y: 1891, label: "5.57" },
];

export default function App() {
  const refs = useRef<(HTMLCanvasElement | null)[]>([]);
  const cbRef = useRef<HTMLCanvasElement | null>(null);
  useEffect(() => {
    const charts = panels.map((p, i) => buildPanel(refs.current[i]!, p));
    charts.push(buildColourbar(cbRef.current!));
    return () => charts.forEach((c) => c.destroy());
  }, []);
  return (
    <div style={{ position: "absolute", left: 0, top: 0, width: 4053, height: 2432, overflow: "hidden", background: "#fff" }}>
      {panels.map((p, i) => (
        <canvas
          key={i}
          ref={(el) => { refs.current[i] = el; }}
          width={p.col[1] - p.col[0] + ML + MR}
          height={p.row[1] - p.row[0] + MT + MB}
          style={{ position: "absolute", left: p.col[0] - ML, top: p.row[0] - MT }}
        />
      ))}
      <canvas ref={cbRef} width={32 + 150} height={1829 - 455 + 80} style={{ position: "absolute", left: 2999 - 10, top: 455 - 40 }} />

      <div style={{ position: "absolute", left: 0, top: 0, width: 4053, height: 108, overflow: "hidden" }}>
        <Txt x={717} y={42} size={118}>(a)</Txt>
        <Txt x={845} y={49} size={91} anchor="left">Experiments</Txt>
        <Txt x={2342} y={42} size={118}>(b)</Txt>
        <Txt x={2469} y={49} size={91} anchor="left">Model</Txt>
        <Txt x={3253} y={42} size={118}>(c)</Txt>
        <Txt x={3383} y={49} size={91} anchor="left">Depletion length</Txt>
      </div>

      <Txt x={38} y={1197} size={93} rot>Intensity counts</Txt>
      <Txt x={1038} y={1267} size={92} rot>pH</Txt>
      <Txt x={2035} y={1267} size={92} rot>pH</Txt>
      <Txt x={3227} y={1290} size={92} rot>
        z<span style={{ fontSize: 73, position: "relative", top: 46 }}>pH = 7</span> (mm)
      </Txt>
      <Txt x={628} y={2378} size={92}>z (mm)</Txt>
      <Txt x={1556} y={2378} size={92}>z (mm)</Txt>
      <Txt x={2558} y={2378} size={92}>z (mm)</Txt>
      <Txt x={3752} y={2378} size={92}>t (s)</Txt>

      <Txt x={2926} y={375} size={63} anchor="left">Time (s)</Txt>
      <Txt x={2456} y={365} size={57} anchor="left" color={BLUE}>Exp pH profile</Txt>

      <Txt x={755} y={1915} size={72} anchor="left" color={BLUE}>t<span style={{ fontSize: 50, position: "relative", top: 18 }}>1</span></Txt>
      <Txt x={690} y={2030} size={72} anchor="left" color={BLUE}>t<span style={{ fontSize: 50, position: "relative", top: 18 }}>2</span></Txt>

      {densityAnnotations.map((a, i) => <Density key={i} {...a} />)}

      <div style={{ position: "absolute", left: 3767, top: 992, width: 38, height: 37, background: BLUE }} />
      <div style={{ position: "absolute", left: 3820, top: 992, width: 30, height: 30, border: `3.5px solid ${BLUE}` }} />
      <div style={{ position: "absolute", left: 3767, top: 1085, width: 90, height: 4, background: "#141010" }} />
      <Txt x={3888} y={1010} size={55} anchor="left">Exp</Txt>
      <Txt x={3888} y={1087} size={55} anchor="left">Model</Txt>
    </div>
  );
}
